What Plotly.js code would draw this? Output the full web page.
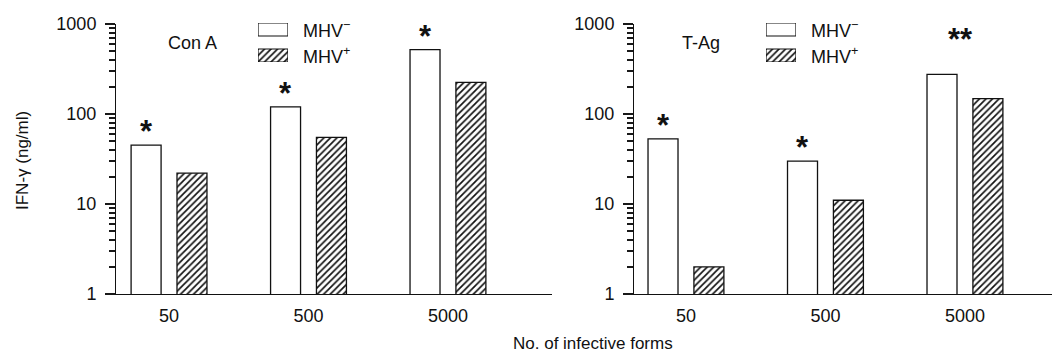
<!DOCTYPE html>
<html><head><meta charset="utf-8">
<script src="https://cdn.plot.ly/plotly-3.0.1.min.js"></script>
<style>html,body{margin:0;padding:0;background:#fff}#chart{width:1053px;height:354px}</style>
</head><body><div id="chart"></div>
<script>
// ---- data ----
const categories = ["50", "500", "5000"];
const seriesNames = ["MHV<sup>−</sup>", "MHV<sup>+</sup>"];
const panelLabels = ["Con A", "T-Ag"];
const conA_neg = [45, 120, 520];
const conA_pos = [22, 55, 225];
const tag_neg = [53, 30, 275];
const tag_pos = [2, 11, 148];
const conA_sig = ["*", "*", "*"];
const tag_sig = ["*", "*", "**"];
const yTickVals = [1, 10, 100, 1000];
const yTickText = ["1", "10", "100", "1000"];
const xTitle = "No. of infective forms";
const yTitle = "IFN-γ (ng/ml)";

// ---- styling ----
const W = 1053, H = 354;
const INK = "#111111";
const TICK = "rgb(25,25,25)";
const FONT = "Liberation Sans, Arial, sans-serif";
const BAR_W = 0.215, OFF_NEG = -0.272, OFF_POS = 0.057;
const hatch = {shape: "/", fgcolor: INK, bgcolor: "#fff", size: 4.6, solidity: 0.36};
const minorVals = [];
yTickVals.slice(0, -1).forEach(d => { for (let k = 2; k <= 9; k++) minorVals.push(k * d); });

function px(v) { return v / W; }
function py(v) { return (H - v) / H; }

const yDomain = [py(294), py(24)];

function panelTraces(neg, pos, xa, ya) {
  return [
    {type: "bar", x: categories, y: neg, xaxis: xa, yaxis: ya, width: BAR_W, offset: OFF_NEG,
     marker: {color: "#fff", line: {color: INK, width: 1.3}}, hoverinfo: "skip"},
    {type: "bar", x: categories, y: pos, xaxis: xa, yaxis: ya, width: BAR_W, offset: OFF_POS,
     marker: {color: "#fff", line: {color: INK, width: 1.3}, pattern: hatch}, hoverinfo: "skip"}
  ];
}
function legendTrace(xa, ya) {
  return {type: "bar", orientation: "h", x: [1, 1], y: [1, 0], width: 0.5, xaxis: xa, yaxis: ya,
    marker: {color: "#fff", line: {color: INK, width: 1.2},
      pattern: {shape: ["", "/"], fgcolor: INK, bgcolor: "#fff", size: 4.6, solidity: 0.36}},
    hoverinfo: "skip"};
}

const data = [
  ...panelTraces(conA_neg, conA_pos, "x", "y"),
  ...panelTraces(tag_neg, tag_pos, "x2", "y2"),
  legendTrace("x3", "y3"),
  legendTrace("x4", "y4")
];

function xAxis(domain, range, anchor) {
  return {domain, range, type: "category", anchor, showline: true, linecolor: INK, linewidth: 1.3,
    ticks: "", showgrid: false, zeroline: false, fixedrange: true,
    tickfont: {family: FONT, size: 18, color: INK}, ticklabelstandoff: 5};
}
function yAxis(position) {
  return {domain: yDomain, type: "log", range: [0, 3], anchor: "free", position,
    tickmode: "array", tickvals: yTickVals, ticktext: yTickText,
    ticks: "outside", ticklen: 10, tickwidth: 2, tickcolor: TICK,
    showline: true, linecolor: INK, linewidth: 1.3, showgrid: false, zeroline: false,
    minor: {tickmode: "array", tickvals: minorVals, ticks: "outside", ticklen: 6, tickwidth: 2, tickcolor: TICK},
    tickfont: {family: FONT, size: 18, color: INK}, ticklabelstandoff: 5, fixedrange: true};
}
function hidden(domain, range, anchor) {
  return {domain, range, anchor, visible: false, fixedrange: true};
}

const annotations = [];
function addSig(marks, neg, pos, xref, yref) {
  marks.forEach((m, i) => {
    const dbl = m.length > 1;
    annotations.push({xref, yref, x: dbl ? i - 0.03 : i + OFF_NEG + BAR_W / 2,
      y: Math.log10(Math.max(neg[i], pos[i])), yanchor: "bottom", xanchor: "center",
      yshift: dbl ? 15 : -6, text: m, showarrow: false,
      font: {family: FONT, size: 31, color: INK, weight: "bold"}});
  });
}
addSig(conA_sig, conA_neg, conA_pos, "x", "y");
addSig(tag_sig, tag_neg, tag_pos, "x2", "y2");

[["x3", "y3"], ["x4", "y4"]].forEach(([xr, yr]) => {
  seriesNames.forEach((s, k) => {
    annotations.push({xref: xr, yref: yr, x: 1, y: 1 - k, xanchor: "left", yanchor: "middle",
      xshift: 13, text: s, showarrow: false, font: {family: FONT, size: 18, color: INK}});
  });
});
annotations.push({xref: "paper", yref: "paper", x: px(192), y: py(43), text: panelLabels[0],
  showarrow: false, xanchor: "center", yanchor: "middle", font: {family: FONT, size: 18, color: INK}});
annotations.push({xref: "paper", yref: "paper", x: px(701), y: py(43), text: panelLabels[1],
  showarrow: false, xanchor: "center", yanchor: "middle", font: {family: FONT, size: 18, color: INK}});
annotations.push({xref: "paper", yref: "paper", x: px(22), y: py(161), text: yTitle, textangle: -90,
  showarrow: false, xanchor: "center", yanchor: "middle", font: {family: FONT, size: 17, color: INK}});
annotations.push({xref: "paper", yref: "paper", x: px(593), y: py(343), text: xTitle,
  showarrow: false, xanchor: "center", yanchor: "middle", font: {family: FONT, size: 17, color: INK}});

const legendY = [py(62), py(23)];
const layout = {
  width: W, height: H, margin: {l: 0, r: 0, t: 0, b: 0},
  paper_bgcolor: "#fff", plot_bgcolor: "rgba(0,0,0,0)", showlegend: false,
  barmode: "overlay", font: {family: FONT, color: INK},
  xaxis: xAxis([px(106), px(552)], [-0.452, 2.746], "y"),
  yaxis: yAxis(px(115)),
  xaxis2: xAxis([px(625), px(1052)], [-0.437, 2.624], "y2"),
  yaxis2: yAxis(px(633)),
  xaxis3: hidden([px(258), px(288)], [0, 1], "y3"),
  yaxis3: hidden(legendY, [-0.25, 1.25], "x3"),
  xaxis4: hidden([px(766), px(796)], [0, 1], "y4"),
  yaxis4: hidden(legendY, [-0.25, 1.25], "x4"),
  annotations
};
Plotly.newPlot("chart", data, layout, {staticPlot: true, displayModeBar: false});
</script>
</body></html>
